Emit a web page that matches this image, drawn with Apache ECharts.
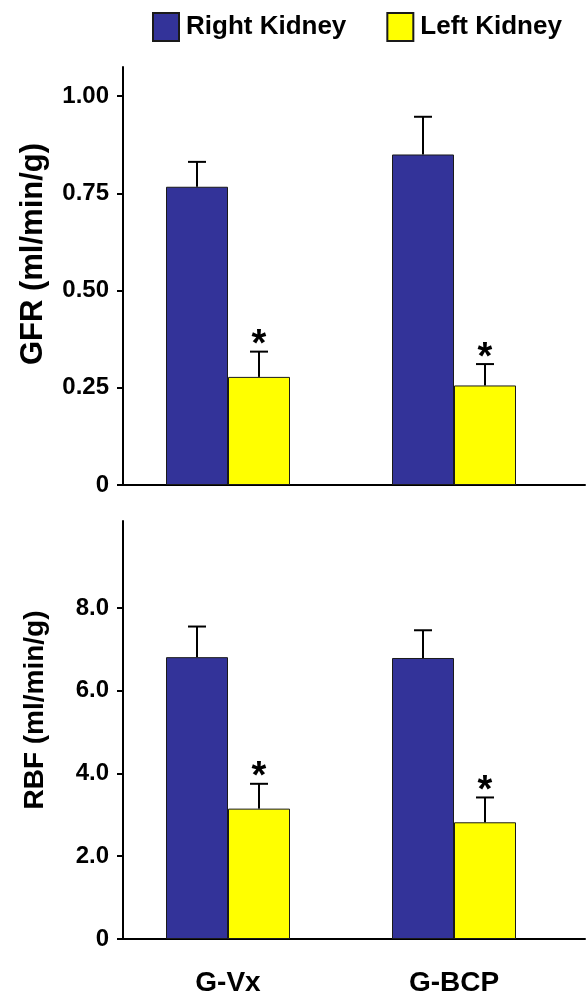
<!DOCTYPE html>
<html>
<head>
<meta charset="utf-8">
<script src="https://cdn.jsdelivr.net/npm/echarts@6/dist/echarts.min.js"></script>
<style>
html,body{margin:0;padding:0;background:#fff;}
#chart{width:587px;height:1002px;}
</style>
</head>
<body>
<div id="chart"></div>
<script>
// ---- data ----
const categories = ['G-Vx', 'G-BCP'];
const seriesNames = ['Right Kidney', 'Left Kidney'];
const gfrRight = [0.767, 0.850];
const gfrRightErr = [0.064, 0.097];
const gfrLeft = [0.278, 0.256];
const gfrLeftErr = [0.065, 0.055];
const rbfRight = [6.81, 6.79];
const rbfRightErr = [0.74, 0.67];
const rbfLeft = [3.15, 2.82];
const rbfLeftErr = [0.60, 0.60];
const leftSignificant = [true, true];
const gfrTicks = [0, 0.25, 0.5, 0.75, 1.0];
const gfrTickLabels = ['0', '0.25', '0.50', '0.75', '1.00'];
const rbfTicks = [0, 2, 4, 6, 8];
const rbfTickLabels = ['0', '2.0', '4.0', '6.0', '8.0'];
const gfrTitle = 'GFR (ml/min/g)';
const rbfTitle = 'RBF (ml/min/g)';

// ---- style ----
const FONT = '"Liberation Sans", Arial, Helvetica, sans-serif';
const BLUE = '#333399';
const YELLOW = '#ffff00';
const BAR_W = 62;
const HALF = BAR_W / 2;

const chart = echarts.init(document.getElementById('chart'), null, {renderer: 'canvas'});

function toPairs(vals) { return vals.map((v, i) => [i, v]); }
function errData(vals, errs, sig) { return vals.map((v, i) => [i, v, v + errs[i], sig ? (sig[i] ? 1 : 0) : 0]); }

function errSeries(name, vals, errs, sig, axisIdx, offset) {
  return {
    type: 'custom',
    name: name,
    xAxisIndex: axisIdx, yAxisIndex: axisIdx,
    data: errData(vals, errs, sig),
    z: 5,
    silent: true,
    renderItem: function (params, api) {
      const base = api.coord([api.value(0), api.value(1)]);
      const top = api.coord([api.value(0), api.value(2)]);
      const x = base[0] + offset;
      const children = [
        {type: 'line', shape: {x1: x, y1: base[1], x2: x, y2: top[1]}, style: {stroke: '#000', lineWidth: 2}},
        {type: 'line', shape: {x1: x - 9, y1: top[1], x2: x + 9, y2: top[1]}, style: {stroke: '#000', lineWidth: 2}}
      ];
      if (api.value(3) === 1) {
        children.push({type: 'text', x: x, y: top[1] - 6,
          style: {text: '*', fill: '#000', font: 'bold 38px ' + FONT, align: 'center', verticalAlign: 'middle'}});
      }
      return {type: 'group', children: children};
    }
  };
}

function yAxisCfg(gridIdx, max, ticks, labels, title, titleSize, shift) {
  return {
    type: 'value', gridIndex: gridIdx, min: 0, max: max,
    splitLine: {show: false},
    axisLine: {show: true, onZero: false, lineStyle: {color: '#000', width: 2}},
    axisTick: {show: true, inside: false, length: 6, customValues: ticks, lineStyle: {color: '#000', width: 2}},
    axisLabel: {customValues: ticks, margin: 14, color: '#000', fontFamily: FONT, fontWeight: 'bold', fontSize: 24,
      formatter: function (v) { const i = ticks.indexOf(v); return i >= 0 ? labels[i] : ''; }},
    name: title, nameLocation: 'middle', nameRotate: 90, nameGap: 74,
    nameTextStyle: {color: '#000', fontFamily: FONT, fontWeight: 'bold', fontSize: titleSize, padding: [0, 0, 0, shift]}
  };
}

function xAxisCfg(gridIdx, showLabels) {
  return {
    type: 'value', gridIndex: gridIdx, min: -0.4646, max: 1.5796,
    splitLine: {show: false},
    axisLine: {show: true, onZero: false, lineStyle: {color: '#000', width: 2}},
    axisTick: {show: false},
    axisLabel: {show: showLabels, customValues: [0, 1], margin: 30, color: '#000', fontFamily: FONT, fontWeight: 'bold', fontSize: 28,
      formatter: function (v) { return categories[Math.round(v)]; }}
  };
}

function barSeries(name, vals, color, axisIdx) {
  return {
    type: 'bar', name: name, xAxisIndex: axisIdx, yAxisIndex: axisIdx,
    data: toPairs(vals), barWidth: BAR_W, barGap: '0%',
    itemStyle: {color: color, borderColor: '#1a1a1a', borderWidth: 1},
    emphasis: {disabled: true}
  };
}

const option = {
  animation: false,
  backgroundColor: '#fff',
  textStyle: {fontFamily: FONT},
  legend: {
    data: seriesNames, left: 147, top: 7, itemWidth: 26, itemHeight: 28, itemGap: 40, icon: 'rect',
    textStyle: {color: '#000', fontFamily: FONT, fontWeight: 'bold', fontSize: 26, padding: [0, 0, 0, 2]},
    selectedMode: false
  },
  grid: [
    {left: 123, top: 67, width: 462, height: 418},
    {left: 123, top: 521, width: 462, height: 418}
  ],
  xAxis: [xAxisCfg(0, false), xAxisCfg(1, true)],
  yAxis: [
    yAxisCfg(0, 1.075, gfrTicks, gfrTickLabels, gfrTitle, 31, 44),
    yAxisCfg(1, 10.1, rbfTicks, rbfTickLabels, rbfTitle, 28, 40)
  ],
  series: [
    barSeries(seriesNames[0], gfrRight, BLUE, 0),
    barSeries(seriesNames[1], gfrLeft, YELLOW, 0),
    errSeries('gfrRightErr', gfrRight, gfrRightErr, null, 0, -HALF),
    errSeries('gfrLeftErr', gfrLeft, gfrLeftErr, leftSignificant, 0, HALF),
    barSeries(seriesNames[0], rbfRight, BLUE, 1),
    barSeries(seriesNames[1], rbfLeft, YELLOW, 1),
    errSeries('rbfRightErr', rbfRight, rbfRightErr, null, 1, -HALF),
    errSeries('rbfLeftErr', rbfLeft, rbfLeftErr, leftSignificant, 1, HALF)
  ]
};
chart.setOption(option);
</script>
</body>
</html>
